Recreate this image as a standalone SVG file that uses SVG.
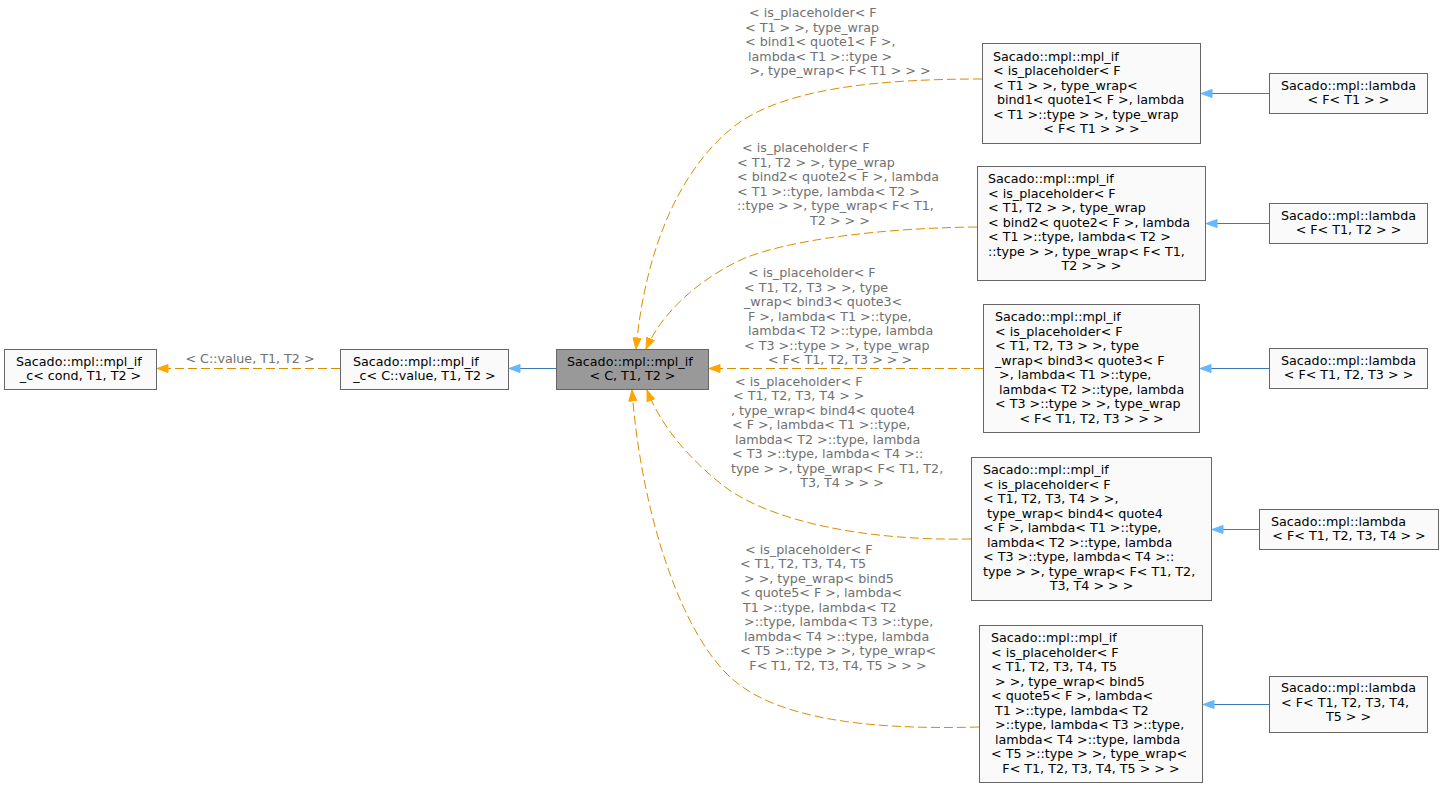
<svg xmlns="http://www.w3.org/2000/svg" width="1444" height="788" viewBox="0 0 1444 788">
  <style>
    text { font-family: "DejaVu Sans", "Liberation Sans", sans-serif; font-size: 12.7px; }
    .node rect { fill: #f9faf9; stroke: #666666; stroke-width: 1; }
    .node.focus rect { fill: #999999; stroke: #666666; }
    .node text { fill: #000000; }
    .c { text-anchor: middle; }
    .tmpl { fill: none; stroke: #d98e00; stroke-width: 1; stroke-dasharray: 9 4; }
    .inh { fill: none; stroke: #3d79b2; stroke-width: 1; }
    .elabel text { fill: #707070; }
  </style>
  <defs>
    <marker id="arrTmpl" viewBox="0 0 12 9" refX="11.5" refY="4.5" markerWidth="12" markerHeight="9" orient="auto" markerUnits="userSpaceOnUse">
      <path d="M0.5,0.5 L11.5,4.5 L0.5,8.5 Z" fill="#ffa500" stroke="#ffa500" stroke-width="1"/>
    </marker>
    <marker id="arrInh" viewBox="0 0 12 9" refX="11.5" refY="4.5" markerWidth="12" markerHeight="9" orient="auto" markerUnits="userSpaceOnUse">
      <path d="M0.5,0.5 L11.5,4.5 L0.5,8.5 Z" fill="#63b8ff" stroke="#63b8ff" stroke-width="1"/>
    </marker>
  </defs>

  <!-- connectors -->
  <g id="edges">
    <!-- template instantiation edges (dashed orange) -->
    <path id="e_b_a" class="tmpl" d="M340,368.5 L157,368.5" marker-end="url(#arrTmpl)"/>
    <path id="e_n1_c" class="tmpl" d="M982,79 C880,79 790,88 740,122 C680,165 645,250 636,349" marker-end="url(#arrTmpl)"/>
    <path id="e_n2_c" class="tmpl" d="M977,227 C880,228 790,240 745,258 C700,278 662,312 646,349" marker-end="url(#arrTmpl)"/>
    <path id="e_n3_c" class="tmpl" d="M983,368.5 L709,368.5" marker-end="url(#arrTmpl)"/>
    <path id="e_n4_c" class="tmpl" d="M971,539 C860,541 770,520 725,487 C690,460 660,425 647,390" marker-end="url(#arrTmpl)"/>
    <path id="e_n5_c" class="tmpl" d="M979,727 C870,730 770,720 725,672 C675,620 640,500 632,390" marker-end="url(#arrTmpl)"/>
    <!-- inheritance edges (solid blue) -->
    <path id="e_c_b" class="inh" d="M556,368.5 L509,368.5" marker-end="url(#arrInh)"/>
    <path id="e_l1_n1" class="inh" d="M1269,93.5 L1201,93.5" marker-end="url(#arrInh)"/>
    <path id="e_l2_n2" class="inh" d="M1269,223.5 L1206,223.5" marker-end="url(#arrInh)"/>
    <path id="e_l3_n3" class="inh" d="M1269,368.5 L1200,368.5" marker-end="url(#arrInh)"/>
    <path id="e_l4_n4" class="inh" d="M1259,529.5 L1212,529.5" marker-end="url(#arrInh)"/>
    <path id="e_l5_n5" class="inh" d="M1269,704.5 L1203,704.5" marker-end="url(#arrInh)"/>

    <!-- edge labels -->
    <g class="elabel">
      <text x="250" y="363" class="c">&lt; C::value, T1, T2 &gt;</text>
    </g>
    <g class="elabel">
      <text x="749" y="17">&lt; is_placeholder&lt; F</text>
      <text x="745" y="31.5">&lt; T1 &gt; &gt;, type_wrap</text>
      <text x="745" y="46">&lt; bind1&lt; quote1&lt; F &gt;,</text>
      <text x="748" y="60.5">lambda&lt; T1 &gt;::type &gt;</text>
      <text x="840" y="75" class="c">&gt;, type_wrap&lt; F&lt; T1 &gt; &gt; &gt;</text>
    </g>
    <g class="elabel">
      <text x="742" y="152">&lt; is_placeholder&lt; F</text>
      <text x="737" y="166.5">&lt; T1, T2 &gt; &gt;, type_wrap</text>
      <text x="737" y="181">&lt; bind2&lt; quote2&lt; F &gt;, lambda</text>
      <text x="737" y="195.5">&lt; T1 &gt;::type, lambda&lt; T2 &gt;</text>
      <text x="737" y="210">::type &gt; &gt;, type_wrap&lt; F&lt; T1,</text>
      <text x="840" y="224.5" class="c">T2 &gt; &gt; &gt;</text>
    </g>
    <g class="elabel">
      <text x="748" y="277">&lt; is_placeholder&lt; F</text>
      <text x="744" y="291.5">&lt; T1, T2, T3 &gt; &gt;, type</text>
      <text x="744" y="306">_wrap&lt; bind3&lt; quote3&lt;</text>
      <text x="748" y="320.5">F &gt;, lambda&lt; T1 &gt;::type,</text>
      <text x="748" y="335">lambda&lt; T2 &gt;::type, lambda</text>
      <text x="744" y="349.5">&lt; T3 &gt;::type &gt; &gt;, type_wrap</text>
      <text x="840" y="364" class="c">&lt; F&lt; T1, T2, T3 &gt; &gt; &gt;</text>
    </g>
    <g class="elabel">
      <text x="735" y="385.5">&lt; is_placeholder&lt; F</text>
      <text x="733" y="400">&lt; T1, T2, T3, T4 &gt; &gt;</text>
      <text x="731" y="414.5">, type_wrap&lt; bind4&lt; quote4</text>
      <text x="732" y="429">&lt; F &gt;, lambda&lt; T1 &gt;::type,</text>
      <text x="735" y="443.5">lambda&lt; T2 &gt;::type, lambda</text>
      <text x="732" y="458">&lt; T3 &gt;::type, lambda&lt; T4 &gt;::</text>
      <text x="731" y="472.5">type &gt; &gt;, type_wrap&lt; F&lt; T1, T2,</text>
      <text x="842" y="487" class="c">T3, T4 &gt; &gt; &gt;</text>
    </g>
    <g class="elabel">
      <text x="745" y="553.5">&lt; is_placeholder&lt; F</text>
      <text x="740" y="568">&lt; T1, T2, T3, T4, T5</text>
      <text x="744" y="582.5">&gt; &gt;, type_wrap&lt; bind5</text>
      <text x="740" y="597">&lt; quote5&lt; F &gt;, lambda&lt;</text>
      <text x="743" y="611.5">T1 &gt;::type, lambda&lt; T2</text>
      <text x="744" y="626">&gt;::type, lambda&lt; T3 &gt;::type,</text>
      <text x="744" y="640.5">lambda&lt; T4 &gt;::type, lambda</text>
      <text x="740" y="655">&lt; T5 &gt;::type &gt; &gt;, type_wrap&lt;</text>
      <text x="838" y="669.5" class="c">F&lt; T1, T2, T3, T4, T5 &gt; &gt; &gt;</text>
    </g>
  </g>

  <!-- nodes -->
  <g id="node_mpl_if_c" class="node">
    <rect x="4.5" y="349.5" width="152" height="40"/>
    <text x="16" y="365.5">Sacado::mpl::mpl_if</text>
    <text x="80.5" y="380" class="c">_c&lt; cond, T1, T2 &gt;</text>
  </g>
  <g id="node_mpl_if_c_value" class="node">
    <rect x="340.5" y="349.5" width="168" height="40"/>
    <text x="353" y="365.5">Sacado::mpl::mpl_if</text>
    <text x="424.5" y="380" class="c">_c&lt; C::value, T1, T2 &gt;</text>
  </g>
  <g id="node_mpl_if" class="node focus">
    <rect x="556.5" y="349.5" width="152" height="40"/>
    <text x="567" y="365.5">Sacado::mpl::mpl_if</text>
    <text x="632.5" y="380" class="c">&lt; C, T1, T2 &gt;</text>
  </g>

  <g id="node_if_lambda1" class="node">
    <rect x="982.5" y="43.5" width="218" height="100"/>
    <text x="993" y="60.5">Sacado::mpl::mpl_if</text>
    <text x="993" y="75">&lt; is_placeholder&lt; F</text>
    <text x="993" y="89.5">&lt; T1 &gt; &gt;, type_wrap&lt;</text>
    <text x="997" y="104">bind1&lt; quote1&lt; F &gt;, lambda</text>
    <text x="993" y="118.5">&lt; T1 &gt;::type &gt; &gt;, type_wrap</text>
    <text x="1091.5" y="133" class="c">&lt; F&lt; T1 &gt; &gt; &gt;</text>
  </g>
  <g id="node_if_lambda2" class="node">
    <rect x="977.5" y="166.5" width="228" height="114"/>
    <text x="988" y="183">Sacado::mpl::mpl_if</text>
    <text x="988" y="197.5">&lt; is_placeholder&lt; F</text>
    <text x="988" y="212">&lt; T1, T2 &gt; &gt;, type_wrap</text>
    <text x="988" y="226.5">&lt; bind2&lt; quote2&lt; F &gt;, lambda</text>
    <text x="988" y="241">&lt; T1 &gt;::type, lambda&lt; T2 &gt;</text>
    <text x="988" y="255.5">::type &gt; &gt;, type_wrap&lt; F&lt; T1,</text>
    <text x="1091.5" y="270" class="c">T2 &gt; &gt; &gt;</text>
  </g>
  <g id="node_if_lambda3" class="node">
    <rect x="983.5" y="304.5" width="216" height="128"/>
    <text x="995" y="321">Sacado::mpl::mpl_if</text>
    <text x="995" y="335.5">&lt; is_placeholder&lt; F</text>
    <text x="995" y="350">&lt; T1, T2, T3 &gt; &gt;, type</text>
    <text x="995" y="364.5">_wrap&lt; bind3&lt; quote3&lt; F</text>
    <text x="999" y="379">&gt;, lambda&lt; T1 &gt;::type,</text>
    <text x="999" y="393.5">lambda&lt; T2 &gt;::type, lambda</text>
    <text x="995" y="408">&lt; T3 &gt;::type &gt; &gt;, type_wrap</text>
    <text x="1091.5" y="422.5" class="c">&lt; F&lt; T1, T2, T3 &gt; &gt; &gt;</text>
  </g>
  <g id="node_if_lambda4" class="node">
    <rect x="971.5" y="457.5" width="240" height="143"/>
    <text x="983" y="474">Sacado::mpl::mpl_if</text>
    <text x="983" y="488.5">&lt; is_placeholder&lt; F</text>
    <text x="983" y="503">&lt; T1, T2, T3, T4 &gt; &gt;,</text>
    <text x="987" y="517.5">type_wrap&lt; bind4&lt; quote4</text>
    <text x="983" y="532">&lt; F &gt;, lambda&lt; T1 &gt;::type,</text>
    <text x="987" y="546.5">lambda&lt; T2 &gt;::type, lambda</text>
    <text x="983" y="561">&lt; T3 &gt;::type, lambda&lt; T4 &gt;::</text>
    <text x="983" y="575.5">type &gt; &gt;, type_wrap&lt; F&lt; T1, T2,</text>
    <text x="1091.5" y="590" class="c">T3, T4 &gt; &gt; &gt;</text>
  </g>
  <g id="node_if_lambda5" class="node">
    <rect x="979.5" y="625.5" width="223" height="157"/>
    <text x="991" y="642">Sacado::mpl::mpl_if</text>
    <text x="991" y="656.5">&lt; is_placeholder&lt; F</text>
    <text x="991" y="671">&lt; T1, T2, T3, T4, T5</text>
    <text x="995" y="685.5">&gt; &gt;, type_wrap&lt; bind5</text>
    <text x="991" y="700">&lt; quote5&lt; F &gt;, lambda&lt;</text>
    <text x="995" y="714.5">T1 &gt;::type, lambda&lt; T2</text>
    <text x="995" y="729">&gt;::type, lambda&lt; T3 &gt;::type,</text>
    <text x="995" y="743.5">lambda&lt; T4 &gt;::type, lambda</text>
    <text x="991" y="758">&lt; T5 &gt;::type &gt; &gt;, type_wrap&lt;</text>
    <text x="1091" y="772.5" class="c">F&lt; T1, T2, T3, T4, T5 &gt; &gt; &gt;</text>
  </g>

  <g id="node_lambda1" class="node">
    <rect x="1269.5" y="73.5" width="158" height="40"/>
    <text x="1281" y="89.5">Sacado::mpl::lambda</text>
    <text x="1348.5" y="104" class="c">&lt; F&lt; T1 &gt; &gt;</text>
  </g>
  <g id="node_lambda2" class="node">
    <rect x="1269.5" y="203.5" width="158" height="40"/>
    <text x="1281" y="219.5">Sacado::mpl::lambda</text>
    <text x="1348.5" y="234" class="c">&lt; F&lt; T1, T2 &gt; &gt;</text>
  </g>
  <g id="node_lambda3" class="node">
    <rect x="1269.5" y="348.5" width="158" height="40"/>
    <text x="1281" y="364.5">Sacado::mpl::lambda</text>
    <text x="1348.5" y="379" class="c">&lt; F&lt; T1, T2, T3 &gt; &gt;</text>
  </g>
  <g id="node_lambda4" class="node">
    <rect x="1259.5" y="509.5" width="179" height="40"/>
    <text x="1271" y="525.5">Sacado::mpl::lambda</text>
    <text x="1349" y="540" class="c">&lt; F&lt; T1, T2, T3, T4 &gt; &gt;</text>
  </g>
  <g id="node_lambda5" class="node">
    <rect x="1269.5" y="676.5" width="158" height="56"/>
    <text x="1281" y="692">Sacado::mpl::lambda</text>
    <text x="1281" y="706.5">&lt; F&lt; T1, T2, T3, T4,</text>
    <text x="1348.5" y="721" class="c">T5 &gt; &gt;</text>
  </g>
</svg>
